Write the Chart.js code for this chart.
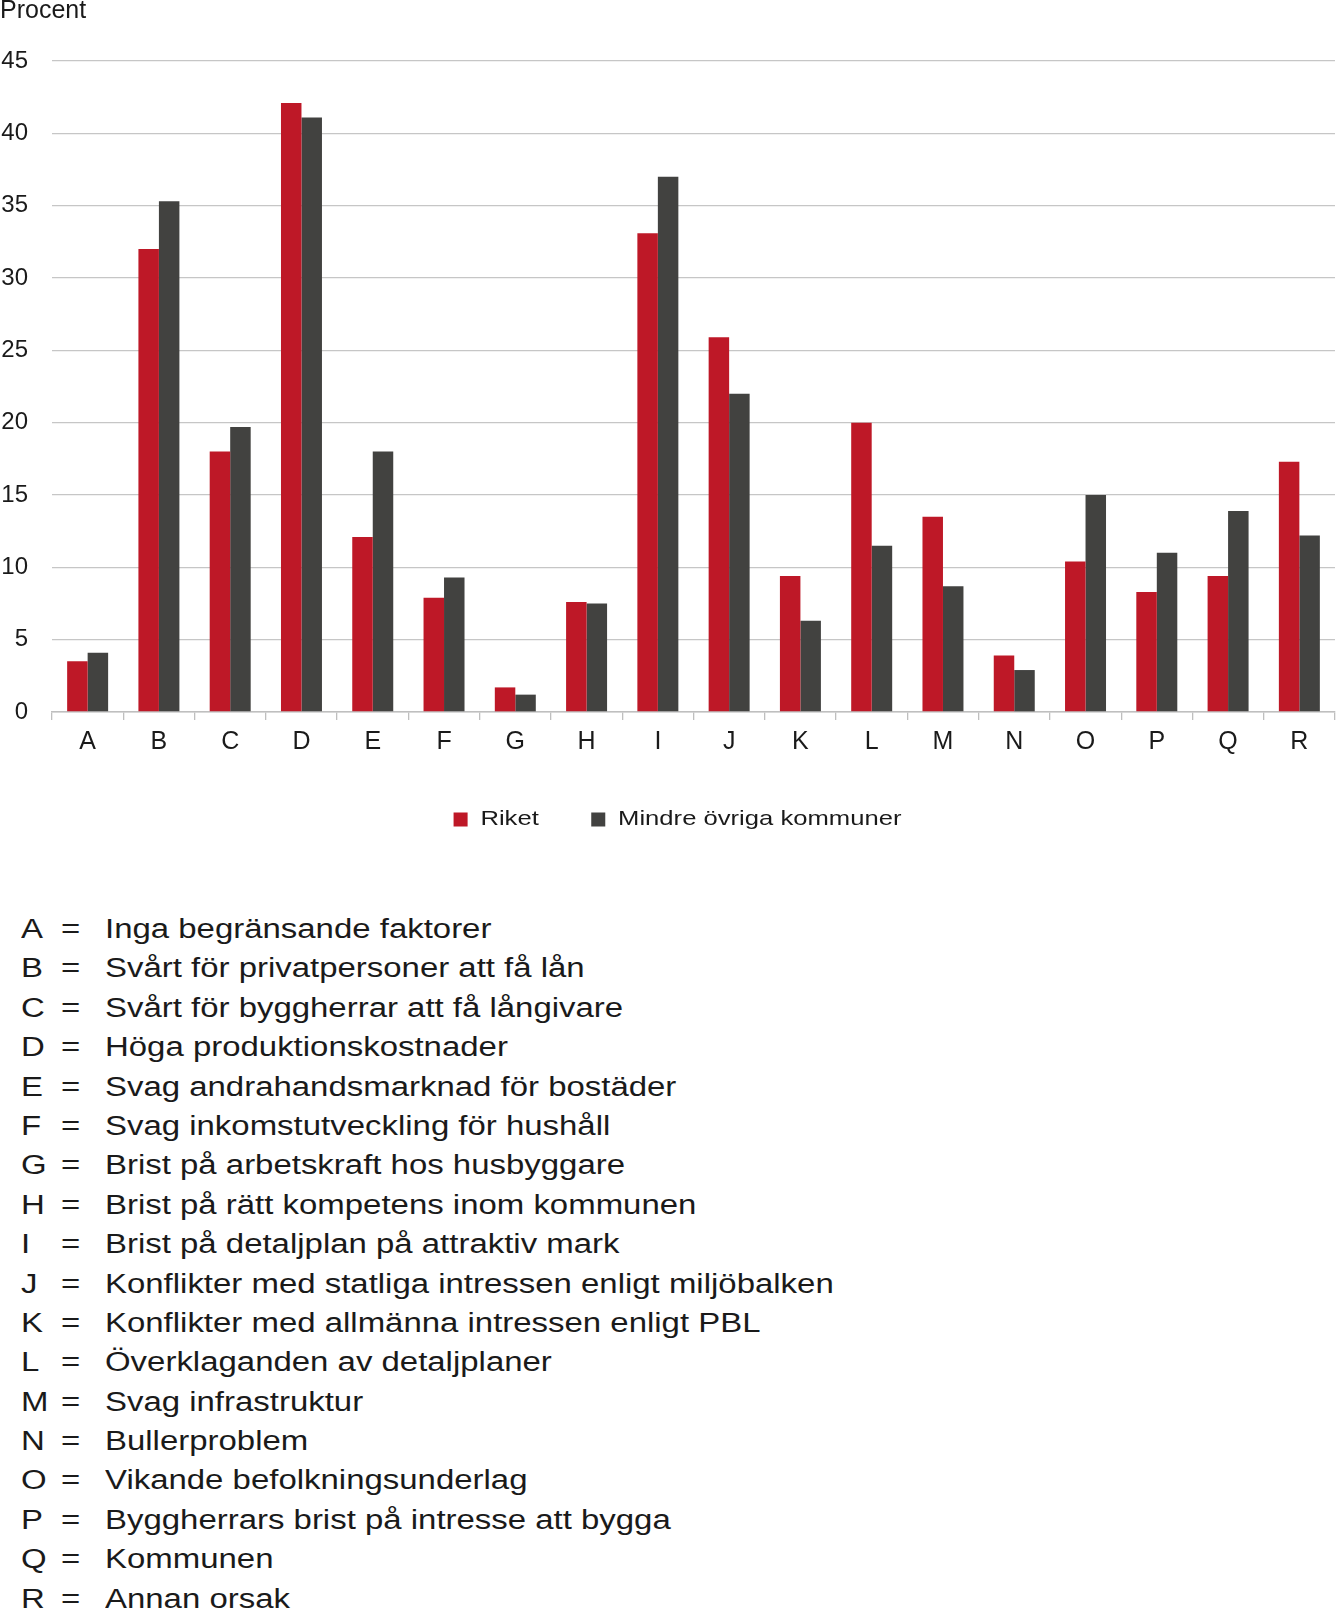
<!DOCTYPE html>
<html>
<head>
<meta charset="utf-8">
<script src="https://cdn.jsdelivr.net/npm/chart.js@4"></script>
<style>
  body { margin: 0; background: #fff; }
  #wrap { position: relative; width: 1336px; height: 1611px; overflow: hidden; }
  #chart { position: absolute; left: 0; top: 0; }
  #key {
    position: absolute; left: 0; top: 910px;
    font-family: "Liberation Sans", Arial, sans-serif;
    font-size: 27px; line-height: 39.4px; color: #1a1a1a;
  }
  #key div { position: relative; height: 39.4px; white-space: nowrap; }
  #key span { position: absolute; top: 0; transform: scaleX(1.22); transform-origin: left center; }
</style>
</head>
<body>
<div id="wrap">
  <canvas id="chart" width="1336" height="840"></canvas>
  <div id="key"></div>
</div>
<script>
// Categories and their meaning
const CATEGORIES = ["A", "B", "C", "D", "E", "F", "G", "H", "I", "J", "K", "L", "M", "N", "O", "P", "Q", "R"];
const DESCRIPTIONS = [
  "Inga begränsande faktorer",
  "Svårt för privatpersoner att få lån",
  "Svårt för byggherrar att få långivare",
  "Höga produktionskostnader",
  "Svag andrahandsmarknad för bostäder",
  "Svag inkomstutveckling för hushåll",
  "Brist på arbetskraft hos husbyggare",
  "Brist på rätt kompetens inom kommunen",
  "Brist på detaljplan på attraktiv mark",
  "Konflikter med statliga intressen enligt miljöbalken",
  "Konflikter med allmänna intressen enligt PBL",
  "Överklaganden av detaljplaner",
  "Svag infrastruktur",
  "Bullerproblem",
  "Vikande befolkningsunderlag",
  "Byggherrars brist på intresse att bygga",
  "Kommunen",
  "Annan orsak",
];

// Series values (percent)
const RIKET = [3.5, 32.0, 18.0, 42.1, 12.1, 7.9, 1.7, 7.6, 33.1, 25.9, 9.4, 20.0, 13.5, 3.9, 10.4, 8.3, 9.4, 17.3];
const MINDRE = [4.1, 35.3, 19.7, 41.1, 18.0, 9.3, 1.2, 7.5, 37.0, 22.0, 6.3, 11.5, 8.7, 2.9, 15.0, 11.0, 13.9, 12.2];

// Y axis
const Y_MIN = 0;
const Y_MAX = 45;
const Y_STEP = 5;

const FONT = "'Liberation Sans', Arial, sans-serif";
const TEXT = "#1a1a1a";

// Key below the chart
const key = document.getElementById("key");
CATEGORIES.forEach((c, i) => {
  key.innerHTML += `<div><span style="left:21px">${c}</span><span style="left:61px">=</span><span style="left:105px">${DESCRIPTIONS[i]}</span></div>`;
});

// The legend in the original uses a wide face: stretch it sideways
const wideLegend = {
  id: "wideLegend",
  afterInit(chart) {
    const legend = chart.legend;
    const orig = legend.draw.bind(legend);
    legend.draw = function () {
      const c = this.ctx;
      const cx = (this.left + this.right) / 2;
      c.save();
      c.translate(cx + 10, 0);
      c.scale(1.22, 1);
      c.translate(-cx, 0);
      orig();
      c.restore();
    };
  },
};

const ctx = document.getElementById("chart").getContext("2d");
const chart = new Chart(ctx, {
  type: "bar",
  data: {
    labels: CATEGORIES,
    datasets: [
      {
        label: "Riket",
        data: RIKET,
        backgroundColor: "#be1827",
        categoryPercentage: 0.575,
        barPercentage: 1.0,
      },
      {
        label: "Mindre övriga kommuner",
        data: MINDRE,
        backgroundColor: "#424240",
        categoryPercentage: 0.575,
        barPercentage: 1.0,
      },
    ],
  },
  plugins: [wideLegend],
  options: {
    responsive: false,
    animation: false,
    devicePixelRatio: 1,
    layout: { padding: { left: 0, right: 1, top: 0, bottom: 0 } },
    plugins: {
      tooltip: { enabled: false },
      title: {
        display: true,
        text: "Procent",
        align: "start",
        color: TEXT,
        font: { family: FONT, size: 25, weight: "normal" },
        padding: { top: -4, bottom: 35 },
      },
      legend: {
        position: "bottom",
        labels: {
          color: TEXT,
          font: { family: FONT, size: 21 },
          boxWidth: 11.5,
          boxHeight: 14,
          padding: 43,
        },
      },
    },
    scales: {
      x: {
        grid: {
          drawOnChartArea: false,
          drawTicks: true,
          tickLength: 8,
          color: "#bfbfbf",
          lineWidth: 1.3,
          offset: true,
        },
        border: { color: "#bfbfbf", width: 1.5 },
        ticks: {
          color: TEXT,
          font: { family: FONT, size: 25 },
          padding: 7,
          maxRotation: 0,
        },
        afterFit: (scale) => { scale.height = 54; },
      },
      y: {
        min: Y_MIN,
        max: Y_MAX,
        ticks: {
          stepSize: Y_STEP,
          color: TEXT,
          font: { family: FONT, size: 24 },
          padding: 24,
        },
        grid: { color: "#c6c6c6", lineWidth: 1.3, drawTicks: false },
        border: { display: false },
        afterFit: (scale) => { scale.width = 52; },
      },
    },
  },
});
</script>
</body>
</html>
